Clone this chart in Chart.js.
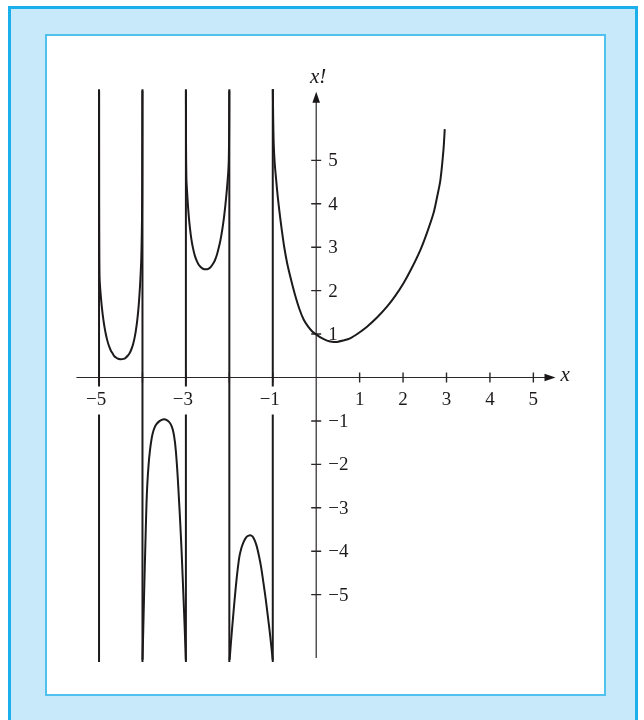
<!DOCTYPE html>
<html>
<head>
<meta charset="utf-8">
<script src="https://cdn.jsdelivr.net/npm/chart.js@4/dist/chart.umd.min.js"></script>
<style>
  html, body { margin: 0; padding: 0; background: #ffffff; }
  #outer {
    position: absolute; left: 8px; top: 6px; width: 630px; height: 740px;
    background: #c7e9f9; border: 3px solid #1bb0ec; box-sizing: border-box;
  }
  #inner {
    position: absolute; left: 45px; top: 34px; width: 561px; height: 662px;
    background: #ffffff; border: 2px solid #4ec1ee; box-sizing: border-box;
  }
  #plot { position: absolute; left: 0; top: 0; }
</style>
</head>
<body>
<div id="outer"></div>
<div id="inner"></div>
<canvas id="plot" width="644" height="720"></canvas>
<script>
// values, one array pair per branch of x!
// branch between -5 and -4 (positive, U shape)
const branchA_x = [-4.9988, -4.9972, -4.9942, -4.9885, -4.977, -4.9609, -4.9401, -4.9217, -4.901, -4.8757, -4.848, -4.8158, -4.7859, -4.7559, -4.7237, -4.6892, -4.6546, -4.6178, -4.5786, -4.5395, -4.4911,
  -4.4375, -4.3914, -4.3408, -4.3039, -4.2717, -4.2395, -4.2118, -4.1842, -4.1566, -4.1197, -4.0875, -4.0576, -4.0414, -4.0276, -4.0184, -4.0115, -4.0058, -4.0018];
const branchA_y = [6.60, 4.00, 3.00, 2.33, 2.10, 1.895, 1.67, 1.50, 1.34, 1.17, 1.02, 0.878, 0.77, 0.686, 0.61, 0.559, 0.50, 0.467, 0.44, 0.426, 0.42,
  0.428, 0.45, 0.50, 0.548, 0.61, 0.693, 0.785, 0.90, 1.05, 1.32, 1.65, 2.09, 2.40, 2.73, 3.15, 3.60, 4.50, 6.60];

// branch between -4 and -3 (negative, cap shape)
const branchB_x = [-3.9977, -3.9816, -3.9655, -3.947, -3.9263, -3.9079, -3.8895, -3.8584, -3.8273, -3.7962, -3.7651, -3.7191, -3.673, -3.6155, -3.5579, -3.505,
  -3.431, -3.38, -3.329, -3.288, -3.253, -3.23, -3.207, -3.193, -3.177, -3.159, -3.138, -3.12, -3.099, -3.076, -3.053, -3.023, -3.002];
const branchB_y = [-6.50, -5.81, -5.12, -4.38, -3.59, -2.93, -2.48, -2.00, -1.68, -1.45, -1.29, -1.15, -1.07, -1.01, -0.975, -0.96,
  -0.985, -1.03, -1.12, -1.26, -1.48, -1.71, -2.01, -2.22, -2.49, -2.82, -3.20, -3.56, -4.00, -4.56, -5.12, -5.90, -6.50];

// branch between -3 and -2 (positive, U shape)
const branchC_x = [-2.9988, -2.9965, -2.9885, -2.977, -2.954, -2.931, -2.908, -2.876, -2.839, -2.793, -2.747, -2.701, -2.655, -2.609, -2.539,
  -2.4835, -2.4306, -2.3684, -2.3316, -2.2878, -2.2556, -2.2072, -2.1635, -2.1266, -2.0921, -2.0645, -2.0391, -2.023, -2.0115, -2.0046, -2.0012];
const branchC_y = [6.60, 5.30, 4.58, 4.35, 3.98, 3.68, 3.45, 3.20, 2.99, 2.80, 2.68, 2.59, 2.54, 2.505, 2.49,
  2.50, 2.54, 2.63, 2.70, 2.82, 2.94, 3.15, 3.40, 3.66, 3.96, 4.24, 4.54, 4.76, 5.05, 5.70, 6.60];

// branch between -2 and -1 (negative, cap shape)
const branchD_x = [-1.9931, -1.954, -1.9079, -1.8688, -1.8319, -1.7997, -1.7697, -1.7237, -1.6776, -1.6316, -1.5855, -1.5234,
  -1.4878, -1.4528, -1.409, -1.3653, -1.3172, -1.2691, -1.2144, -1.1597, -1.1094, -1.0656, -1.0328, -1.002];
const branchD_y = [-6.50, -5.99, -5.45, -5.01, -4.63, -4.35, -4.13, -3.93, -3.80, -3.71, -3.655, -3.63,
  -3.645, -3.68, -3.77, -3.90, -4.11, -4.36, -4.73, -5.12, -5.53, -5.89, -6.20, -6.50];

// branch from -1 up to 3
const branchE_x = [-0.9977, -0.9908, -0.977, -0.9563, -0.9217, -0.8849, -0.8411, -0.7928, -0.7375, -0.6661, -0.5786, -0.4865, -0.3806, -0.2862, -0.1849, -0.0905, 0.0,
  0.12, 0.25, 0.36, 0.48, 0.62, 0.78, 0.97, 1.17, 1.40, 1.63, 1.82, 2.01, 2.20, 2.40, 2.55, 2.70, 2.78, 2.86, 2.93, 2.96];
const branchE_y = [6.64, 6.00, 5.35, 4.95, 4.55, 4.16, 3.78, 3.40, 3.01, 2.62, 2.25, 1.90, 1.56, 1.33, 1.17, 1.06, 0.99,
  0.91, 0.85, 0.825, 0.82, 0.85, 0.90, 1.02, 1.17, 1.38, 1.63, 1.88, 2.17, 2.52, 2.94, 3.33, 3.78, 4.14, 4.55, 5.24, 5.72];

// vertical asymptotes and their extent
const asymptotes = [-5, -4, -3, -2, -1];
const asymptoteTop = 6.64;
const asymptoteBottom = -6.55;

const xTicks = [-5, -4, -3, -2, -1, 1, 2, 3, 4, 5];
const xTickLabels = ['−5', '', '−3', '', '−1', '1', '2', '3', '4', '5'];
const yTicks = [-5, -4, -3, -2, -1, 1, 2, 3, 4, 5];
const yTickLabels = ['−5', '−4', '−3', '−2', '−1', '1', '2', '3', '4', '5'];
const xAxisRange = [-5.52, 5.51];
const yAxisRange = [-6.46, 6.58];

const INK = '#1d1a1b';
const FONT = '19px "Liberation Serif", "DejaVu Serif", serif';
const ITALIC = 'italic 21px "Liberation Serif", "DejaVu Serif", serif';

function pts(xs, ys) {
  return xs.map((x, i) => ({ x: x, y: ys[i] }));
}

const curve = (xs, ys) => ({
  data: pts(xs, ys),
  showLine: true,
  borderColor: INK,
  borderWidth: 2,
  pointRadius: 0,
  tension: 0.3
});

const datasets = asymptotes.map(a => ({
  data: [{ x: a, y: asymptoteBottom }, { x: a, y: asymptoteTop }],
  showLine: true,
  borderColor: INK,
  borderWidth: 2,
  pointRadius: 0
}));
datasets.push(curve(branchA_x, branchA_y));
datasets.push(curve(branchB_x, branchB_y));
datasets.push(curve(branchC_x, branchC_y));
datasets.push(curve(branchD_x, branchD_y));
datasets.push(curve(branchE_x, branchE_y));

// axes with arrow heads, drawn under the curves
const axesPlugin = {
  id: 'axes',
  beforeDatasetsDraw(chart) {
    const { ctx, scales: { x, y } } = chart;
    const x0 = x.getPixelForValue(0);
    const y0 = y.getPixelForValue(0);
    ctx.save();
    ctx.strokeStyle = '#2a2728';
    ctx.fillStyle = '#1a1718';
    ctx.lineWidth = 1.2;
    ctx.beginPath();
    ctx.moveTo(x.getPixelForValue(xAxisRange[0]), y0);
    ctx.lineTo(x.getPixelForValue(xAxisRange[1]) - 6, y0);
    ctx.moveTo(x0, y.getPixelForValue(yAxisRange[0]));
    ctx.lineTo(x0, y.getPixelForValue(yAxisRange[1]) + 6);
    ctx.stroke();

    // arrow heads
    const xt = x.getPixelForValue(xAxisRange[1]);
    ctx.beginPath();
    ctx.moveTo(xt, y0);
    ctx.lineTo(xt - 11, y0 - 3.8);
    ctx.lineTo(xt - 11, y0 + 3.8);
    ctx.closePath();
    ctx.fill();
    const yt = y.getPixelForValue(yAxisRange[1]);
    ctx.beginPath();
    ctx.moveTo(x0, yt);
    ctx.lineTo(x0 - 3.8, yt + 11);
    ctx.lineTo(x0 + 3.8, yt + 11);
    ctx.closePath();
    ctx.fill();

    // tick marks
    ctx.lineWidth = 1.4;
    ctx.beginPath();
    xTicks.forEach(v => {
      const px = x.getPixelForValue(v);
      ctx.moveTo(px, y0 - 5);
      ctx.lineTo(px, y0 + 5);
    });
    yTicks.forEach(v => {
      const py = y.getPixelForValue(v);
      ctx.moveTo(x0 - 5, py);
      ctx.lineTo(x0 + 5, py);
    });
    ctx.stroke();
    ctx.restore();
  },
  afterDatasetsDraw(chart) {
    const { ctx, scales: { x, y } } = chart;
    const x0 = x.getPixelForValue(0);
    const y0 = y.getPixelForValue(0);
    ctx.save();
    ctx.font = FONT;
    ctx.textBaseline = 'middle';

    // x tick labels, the negative ones sit on a white patch over the asymptote
    ctx.textAlign = 'center';
    xTicks.forEach((v, i) => {
      const label = xTickLabels[i];
      if (!label) return;
      const px = x.getPixelForValue(v);
      const ly = y0 + 23;
      if (v < 0) {
        const w = ctx.measureText(label).width;
        ctx.fillStyle = '#ffffff';
        ctx.fillRect(px - w / 2 - 3, ly - 14, w + 6, 28);
      }
      ctx.fillStyle = INK;
      ctx.fillText(label, v < 0 ? px - 3 : px, ly);
    });

    // y tick labels to the right of the axis
    ctx.textAlign = 'left';
    yTicks.forEach((v, i) => {
      const py = y.getPixelForValue(v);
      ctx.fillStyle = INK;
      ctx.fillText(yTickLabels[i], x0 + 12, py + 1);
    });

    // axis titles
    ctx.font = ITALIC;
    ctx.textAlign = 'center';
    ctx.fillText('x!', x0 + 2, y.getPixelForValue(yAxisRange[1]) - 14);
    ctx.textAlign = 'left';
    ctx.fillText('x', x.getPixelForValue(xAxisRange[1]) + 5, y0 - 2);
    ctx.restore();
  }
};

new Chart(document.getElementById('plot'), {
  type: 'scatter',
  data: { datasets: datasets },
  options: {
    responsive: false,
    animation: false,
    events: [],
    layout: { padding: { left: 55.6, right: 67.2, top: 73.5, bottom: 38.5 } },
    plugins: { legend: { display: false }, tooltip: { enabled: false } },
    scales: {
      x: { type: 'linear', min: -6, max: 6, display: false },
      y: { type: 'linear', min: -7, max: 7, display: false }
    }
  },
  plugins: [axesPlugin]
});
</script>
</body>
</html>
